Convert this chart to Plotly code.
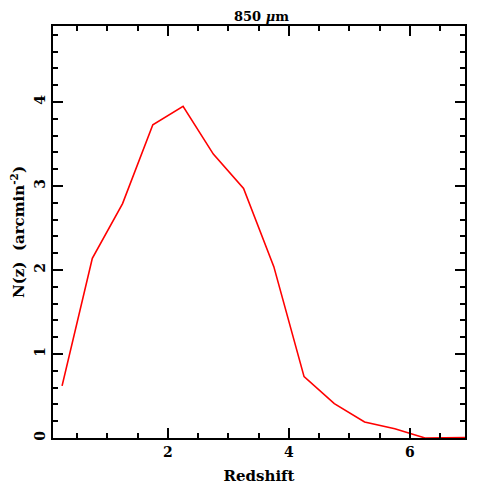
import plotly.graph_objects as go

# redshift bin centres and N(z) values
redshift = [0.25, 0.75, 1.25, 1.75, 2.25, 2.75, 3.25, 3.75, 4.25, 4.75, 5.25, 5.75, 6.25, 6.75, 7.25]
nz = [0.62, 2.14, 2.79, 3.73, 3.95, 3.38, 2.97, 2.04, 0.73, 0.41, 0.19, 0.11, 0.0, 0.01, 0.01]

x_ticks = [2, 4, 6]
y_ticks = [0, 1, 2, 3, 4]

font_family = "DejaVu Serif"

fig = go.Figure()
fig.add_trace(go.Scatter(x=redshift, y=nz, mode="lines",
                         line=dict(color="#ff0000", width=1.6),
                         showlegend=False))

axis_common = dict(
    showline=True, linecolor="black", linewidth=2, mirror="allticks",
    ticks="inside", ticklen=10, tickwidth=1.5, tickcolor="black",
    showgrid=False, zeroline=False, automargin=False,
    tickfont=dict(family=font_family, size=14, color="black", weight="bold"),
)

fig.update_xaxes(range=[0.1, 6.91], tickvals=x_ticks,
                 minor=dict(dtick=0.5, ticks="inside", ticklen=5, tickwidth=1.5, tickcolor="black"),
                 title=dict(text="<b>Redshift</b>", font=dict(family=font_family, size=15, color="black"),
                            standoff=12),
                 **axis_common)
fig.update_yaxes(range=[0, 4.905], tickvals=y_ticks, tickangle=-90,
                 minor=dict(dtick=0.2, ticks="inside", ticklen=5, tickwidth=1.5, tickcolor="black"),
                 title=dict(text="<b>N(z)  (arcmin<sup>-2</sup>)</b>",
                            font=dict(family=font_family, size=15, color="black"), standoff=13),
                 **axis_common)

# title as an annotation just above the frame
fig.add_annotation(text="<b>850 <i>μ</i>m</b>", xref="paper", yref="paper",
                   x=0.505, y=1, xanchor="center", yanchor="middle", yshift=10,
                   showarrow=False, font=dict(family=font_family, size=13, color="black"))

# the page body adds an 8px offset, so the figure is 483 px and margins are shifted
fig.update_layout(
    width=483, height=483,
    margin=dict(l=45, r=26, t=18, b=53, autoexpand=False),
    paper_bgcolor="white", plot_bgcolor="white",
)

fig.write_html("out.html")
